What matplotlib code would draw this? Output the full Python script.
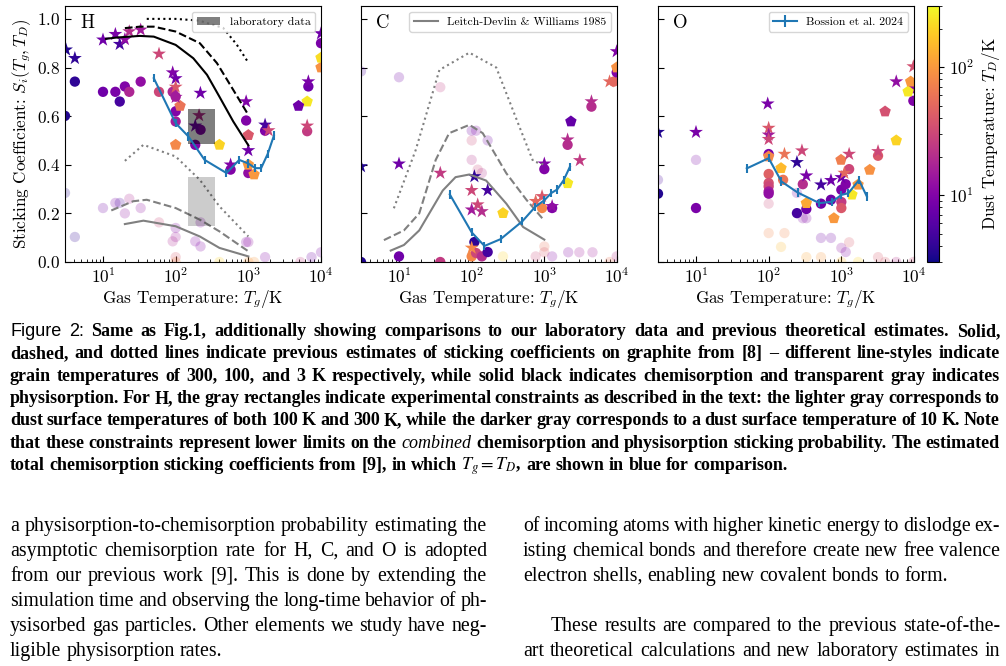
import re
import matplotlib
matplotlib.use("Agg")
import matplotlib.pyplot as plt
from matplotlib.colors import LogNorm
from matplotlib.patches import Rectangle
from matplotlib.lines import Line2D
from matplotlib.cm import ScalarMappable

plt.rcParams['font.family'] = 'cmr10'
plt.rcParams['mathtext.fontset'] = 'cm'
plt.rcParams['axes.formatter.use_mathtext'] = True
plt.rcParams['axes.unicode_minus'] = False

# ---------------- data ----------------
# each group: x = gas temperature, y = sticking coefficient, td = dust temperature
H_star_x = [3.1, 4.1, 10, 14.8, 17, 20, 23, 33, 59, 91, 100, 100, 100, 219, 933, 210, 186, 1000, 1700, 1900, 6450, 6700, 10000, 570]
H_star_y = [0.873, 0.838, 0.914, 0.937, 0.896, 0.916, 0.948, 0.955, 0.856, 0.779, 0.755, 0.72, 0.678, 0.695, 0.66, 0.603, 0.56, 0.459, 0.564, 0.541, 0.56, 0.742, 0.94, 0.40]
H_star_td = [3.5, 4, 8, 9, 5, 12, 20, 15, 30, 10, 8, 40, 15, 8, 10, 20, 8, 8, 5, 30, 30, 9, 8, 10]
H_pent_x = [115, 100, 400, 6450, 4900, 1000, 1200, 1000, 10000, 10000]
H_pent_y = [0.642, 0.482, 0.482, 0.66, 0.642, 0.522, 0.36, 0.40, 0.80, 0.84]
H_pent_td = [60, 80, 200, 250, 8, 40, 100, 100, 90, 220]
H_circ_x = [3, 4.1, 10, 14.8, 17, 20, 23, 33, 59, 91, 100, 100, 100, 186, 220, 933, 1000, 570, 1700, 6450, 6700, 10000]
H_circ_y = [0.601, 0.742, 0.70, 0.70, 0.66, 0.722, 0.70, 0.742, 0.70, 0.70, 0.68, 0.62, 0.578, 0.482, 0.544, 0.582, 0.366, 0.38, 0.54, 0.538, 0.722, 0.90]
H_circ_td = [3.5, 4, 8, 9, 5, 10, 18, 12, 30, 18, 15, 10, 15, 10, 10, 10, 12, 10, 10, 25, 8, 9]
H_fade_x = [3, 4.1, 10, 14.8, 17, 20, 23, 33, 59, 91, 100, 100, 100, 186, 220, 220, 933, 1000, 1700, 5200, 7400, 10000, 100, 400, 1000, 1200]
H_fade_y = [0.284, 0.103, 0.222, 0.243, 0.243, 0.20, 0.26, 0.222, 0.163, 0.085, 0.103, 0.14, 0.02, 0.085, 0.064, 0.163, 0.082, 0.082, 0.02, 0.0, 0.02, 0.04, 0.0, 0.0, 0.0, 0.0]
H_fade_td = [3.5, 4, 8, 9, 5, 12, 18, 12, 30, 18, 15, 10, 40, 10, 10, 10, 10, 12, 10, 25, 8, 9, 80, 200, 100, 100]

C_star_x = [3, 10, 37, 109, 100, 166, 100, 121, 138, 100, 1000, 930, 1280, 760, 2090, 3080, 4450, 7900, 9900]
C_star_y = [0.393, 0.404, 0.366, 0.352, 0.295, 0.295, 0.215, 0.236, 0.208, 0.058, 0.404, 0.27, 0.229, 0.25, 0.503, 0.418, 0.66, 0.742, 0.866]
C_star_td = [3.5, 8, 25, 4, 30, 5, 15, 30, 20, 80, 10, 40, 12, 50, 20, 25, 20, 50, 10]
C_pent_x = [270, 2090, 2320, 9900]
C_pent_y = [0.201, 0.324, 0.578, 0.80]
C_pent_td = [200, 250, 7, 90]
C_circ_x = [3, 10, 37, 109, 100, 115, 138, 166, 1000, 930, 1280, 2090, 4450, 9000, 9900]
C_circ_y = [0.0, 0.023, 0.0, 0.082, 0.023, 0.037, 0.023, 0.041, 0.382, 0.222, 0.222, 0.482, 0.639, 0.742, 0.78]
C_circ_td = [3.5, 8, 25, 4, 80, 30, 20, 5, 10, 80, 10, 20, 20, 50, 10]
C_fade_x = [3, 10, 37, 100, 115, 100, 166, 100, 121, 138, 270, 1000, 1000, 760, 1280, 2130, 3030, 4600, 7900, 9900]
C_fade_y = [0.784, 0.76, 0.719, 0.54, 0.54, 0.5, 0.5, 0.42, 0.38, 0.366, 0.023, 0.064, 0.04, 0.023, 0.023, 0.04, 0.04, 0.04, 0.0, 0.023]
C_fade_td = [5, 8, 25, 8, 10, 30, 8, 20, 30, 20, 200, 60, 40, 30, 10, 10, 15, 15, 60, 20]

O_star_x = [3, 10, 97, 100, 100, 100, 165, 287, 245, 330, 525, 720, 1000, 1280, 1100, 3200, 5700, 9800]
O_star_y = [0.534, 0.534, 0.651, 0.551, 0.523, 0.505, 0.444, 0.458, 0.41, 0.355, 0.318, 0.336, 0.348, 0.444, 0.366, 0.455, 0.742, 0.804]
O_star_td = [3.5, 9, 9, 40, 15, 30, 60, 30, 4, 9, 5, 8, 8, 30, 50, 30, 12, 35]
O_pent_x = [100, 148, 330, 790, 990, 1400, 2460, 5700, 8300, 9000, 4000, 1700]
O_pent_y = [0.434, 0.386, 0.242, 0.18, 0.42, 0.277, 0.379, 0.5, 0.701, 0.742, 0.619, 0.318]
O_pent_td = [80, 150, 120, 100, 70, 250, 90, 200, 250, 100, 35, 100]
O_circ_x = [3, 10, 100, 100, 100, 100, 100, 100, 158, 245, 295, 330, 525, 720, 1000, 1000, 1000, 1280, 1150, 3200, 9800, 9800]
O_circ_y = [0.281, 0.222, 0.444, 0.362, 0.325, 0.311, 0.29, 0.281, 0.338, 0.201, 0.32, 0.218, 0.24, 0.256, 0.297, 0.247, 0.222, 0.382, 0.32, 0.437, 0.663, 0.715]
O_circ_td = [3.5, 9, 9, 45, 35, 30, 15, 12, 60, 5, 20, 8, 8, 8, 9, 25, 40, 30, 10, 40, 10, 12]
O_fade_x = [3, 10, 100, 100, 165, 148, 245, 295, 330, 525, 720, 1000, 1280, 1150, 330, 525, 1000, 1700, 3200, 4000, 5700, 9800]
O_fade_y = [0.338, 0.42, 0.24, 0.119, 0.119, 0.062, 0.284, 0.18, 0.18, 0.099, 0.099, 0.058, 0.081, 0.041, 0.02, 0.02, 0.0, 0.0, 0.02, 0.0, 0.0, 0.0]
O_fade_td = [5, 9, 30, 80, 80, 150, 8, 10, 10, 8, 8, 12, 40, 10, 120, 100, 150, 200, 40, 40, 20, 30]

# previous estimates [8], H: chemisorption (black) and physisorption (gray)
H_chem300_x = [11, 15, 32, 50, 100, 175, 270, 400, 620, 1000]
H_chem300_y = [0.918, 0.923, 0.93, 0.927, 0.893, 0.838, 0.77, 0.68, 0.578, 0.48]
H_chem100_x = [20, 32, 50, 100, 215, 370, 620, 1000]
H_chem100_y = [0.962, 0.968, 0.968, 0.948, 0.90, 0.818, 0.708, 0.605]
H_chem3_x = [40, 100, 210, 450, 690, 1000]
H_chem3_y = [1.0, 1.0, 0.993, 0.963, 0.895, 0.82]
H_phys300_x = [20, 36, 100, 215, 400, 1000]
H_phys300_y = [0.156, 0.17, 0.147, 0.105, 0.058, 0.023]
H_phys100_x = [13, 26, 40, 100, 215, 400, 1000]
H_phys100_y = [0.212, 0.25, 0.256, 0.222, 0.174, 0.126, 0.044]
H_phys3_x = [20, 36, 100, 215, 400, 1000]
H_phys3_y = [0.416, 0.482, 0.434, 0.338, 0.229, 0.105]

# C: Leitch-Devlin & Williams 1985
C_300_x = [7.7, 11.7, 19, 40, 60, 93, 158, 300, 510, 1000]
C_300_y = [0.047, 0.07, 0.13, 0.294, 0.349, 0.36, 0.335, 0.24, 0.144, 0.092]
C_100_x = [6.2, 11.7, 19, 32, 49, 93, 142, 300, 570, 980]
C_100_y = [0.09, 0.13, 0.20, 0.42, 0.53, 0.564, 0.53, 0.365, 0.255, 0.173]
C_3_x = [8.5, 17, 36, 93, 218, 460, 700, 1000]
C_3_y = [0.221, 0.461, 0.79, 0.861, 0.80, 0.552, 0.415, 0.40]

# blue: estimates from [9]
H_blue_x = [50, 100, 150, 250, 500, 750, 1000, 1250, 1500, 1850, 2250]
H_blue_y = [0.756, 0.571, 0.516, 0.42, 0.366, 0.42, 0.405, 0.386, 0.386, 0.445, 0.52]
C_blue_x = [50, 100, 150, 250, 500, 750, 1000, 1250, 1500, 1850, 2250]
C_blue_y = [0.278, 0.122, 0.066, 0.094, 0.168, 0.227, 0.254, 0.284, 0.298, 0.337, 0.392]
O_blue_x = [50, 100, 150, 250, 500, 750, 1000, 1250, 1750, 2250]
O_blue_y = [0.385, 0.427, 0.331, 0.286, 0.242, 0.248, 0.276, 0.283, 0.337, 0.269]
blue_err = 0.017

# laboratory constraints for H
lab_x = [150, 350]
lab_dark_y = [0.486, 0.63]
lab_light_y = [0.15, 0.35]

# ---------------- figure ----------------
W, H = 1006, 666
fig = plt.figure(figsize=(W / 100, H / 100), dpi=100)
FS = 12.3


def box(l, t, r, b):
    return [l / W, 1 - b / H, (r - l) / W, (b - t) / H]


axH = fig.add_axes(box(65, 6, 321, 262))
axC = fig.add_axes(box(361, 6, 617, 262))
axO = fig.add_axes(box(658, 6, 914, 262))
cax = fig.add_axes(box(927, 6, 939, 262))

norm = LogNorm(3, 300)
cmap = 'plasma'


def points(ax, stars, pents, circs, fades):
    ax.scatter(*fades[:2], c=fades[2], cmap=cmap, norm=norm, marker='o', s=55, alpha=0.22, edgecolors='none', zorder=2)
    ax.scatter(*circs[:2], c=circs[2], cmap=cmap, norm=norm, marker='o', s=55, edgecolors='none', zorder=2)
    ax.scatter(*pents[:2], c=pents[2], cmap=cmap, norm=norm, marker='p', s=75, edgecolors='none', zorder=2)
    ax.scatter(*stars[:2], c=stars[2], cmap=cmap, norm=norm, marker='*', s=110, edgecolors='none', zorder=2)


points(axH, (H_star_x, H_star_y, H_star_td), (H_pent_x, H_pent_y, H_pent_td),
       (H_circ_x, H_circ_y, H_circ_td), (H_fade_x, H_fade_y, H_fade_td))
points(axC, (C_star_x, C_star_y, C_star_td), (C_pent_x, C_pent_y, C_pent_td),
       (C_circ_x, C_circ_y, C_circ_td), (C_fade_x, C_fade_y, C_fade_td))
points(axO, (O_star_x, O_star_y, O_star_td), (O_pent_x, O_pent_y, O_pent_td),
       (O_circ_x, O_circ_y, O_circ_td), (O_fade_x, O_fade_y, O_fade_td))

# H previous estimates
axH.plot(H_chem300_x, H_chem300_y, 'k-', lw=1.5, zorder=3)
axH.plot(H_chem100_x, H_chem100_y, 'k--', lw=1.5, zorder=3)
axH.plot(H_chem3_x, H_chem3_y, 'k:', lw=1.5, zorder=3)
axH.plot(H_phys300_x, H_phys300_y, '-', color='gray', lw=1.5, zorder=3)
axH.plot(H_phys100_x, H_phys100_y, '--', color='gray', lw=1.5, zorder=3)
axH.plot(H_phys3_x, H_phys3_y, ':', color='gray', lw=1.5, zorder=3)

dark = Rectangle((lab_x[0], lab_dark_y[0]), lab_x[1] - lab_x[0], lab_dark_y[1] - lab_dark_y[0],
                 facecolor='k', alpha=0.5, edgecolor='none', zorder=4, label='laboratory data')
light = Rectangle((lab_x[0], lab_light_y[0]), lab_x[1] - lab_x[0], lab_light_y[1] - lab_light_y[0],
                  facecolor='k', alpha=0.2, edgecolor='none', zorder=4)
axH.add_patch(dark)
axH.add_patch(light)

# C previous estimates
axC.plot(C_300_x, C_300_y, '-', color='gray', lw=1.5, zorder=3)
axC.plot(C_100_x, C_100_y, '--', color='gray', lw=1.5, zorder=3)
axC.plot(C_3_x, C_3_y, ':', color='gray', lw=1.5, zorder=3)

# blue, with error bars
for ax, bx, by in [(axH, H_blue_x, H_blue_y), (axC, C_blue_x, C_blue_y)]:
    ax.errorbar(bx, by, yerr=blue_err, color='#1f77b4', lw=1.5, zorder=5)
eb = axO.errorbar(O_blue_x, O_blue_y, yerr=blue_err, color='#1f77b4', lw=1.5, zorder=5,
                  label='Bossion et al. 2024')

leg_kw = dict(loc='upper right', fontsize=8.5, framealpha=0.8, borderpad=0.4)
axH.legend(handles=[dark], **leg_kw)
axC.legend(handles=[Line2D([], [], color='gray', lw=1.5)], labels=['Leitch-Devlin & Williams 1985'], **leg_kw)
axO.legend(**leg_kw)

for ax, name in [(axH, 'H'), (axC, 'C'), (axO, 'O')]:
    ax.set_xscale('log')
    ax.set_xlim(3, 1e4)
    ax.set_ylim(0, 1.053)
    ax.set_yticks([0, 0.2, 0.4, 0.6, 0.8, 1.0])
    ax.tick_params(which='both', direction='in', labelsize=FS)
    ax.tick_params(which='major', length=4)
    ax.tick_params(which='minor', length=2.5)
    ax.set_xlabel('Gas Temperature: $T_g/\\mathrm{K}$', fontsize=FS, labelpad=2)
    ax.text(0.06, 0.935, name, transform=ax.transAxes, fontsize=13.5, va='center', ha='left')
    if ax is not axH:
        ax.tick_params(labelleft=False)
axH.set_ylabel('Sticking Coefficient: $S_i(T_g, T_D)$', fontsize=FS, labelpad=3)

cb = fig.colorbar(ScalarMappable(norm=norm, cmap=cmap), cax=cax)
cb.ax.tick_params(labelsize=FS)
cb.set_label('Dust Temperature: $T_D/\\mathrm{K}$', fontsize=FS)

# ---------------- caption and body text ----------------
caption = [
    [("Figure 2:", 'sans'), ("Same as Fig.1, additionally showing comparisons to our laboratory data and previous theoretical estimates.  Solid,", 'bold')],
    [("dashed, and dotted lines indicate previous estimates of sticking coefficients on graphite from [8] \u2013 different line-styles indicate", 'bold')],
    [("grain temperatures of 300, 100, and 3 K respectively, while solid black indicates chemisorption and transparent gray indicates", 'bold')],
    [("physisorption. For H, the gray rectangles indicate experimental constraints as described in the text: the lighter gray corresponds to", 'bold')],
    [("dust surface temperatures of both 100 K and 300 K, while the darker gray corresponds to a dust surface temperature of 10 K. Note", 'bold')],
    [("that these constraints represent lower limits on the", 'bold'), ("combined", 'ital'), ("chemisorption and physisorption sticking probability. The estimated", 'bold')],
    [("total chemisorption sticking coefficients from [9], in which $T_g = T_D$, are shown in blue for comparison.", 'bold')],
]
left_col = [
    "a physisorption-to-chemisorption probability estimating the",
    "asymptotic chemisorption rate for H, C, and O is adopted",
    "from our previous work [9].  This is done by extending the",
    "simulation time and observing the long-time behavior of ph-",
    "ysisorbed gas particles. Other elements we study have neg-",
    "ligible physisorption rates.",
]
right_col = [
    "of incoming atoms with higher kinetic energy to dislodge ex-",
    "isting chemical bonds and therefore create new free valence",
    "electron shells, enabling new covalent bonds to form.",
    "",
    "These results are compared to the previous state-of-the-",
    "art theoretical calculations and new laboratory estimates in",
]

styles = {
    'sans': dict(family='Liberation Sans'),
    'bold': dict(family='Liberation Serif', weight='bold', math_fontfamily='stix'),
    'ital': dict(family='Liberation Serif', style='italic'),
    'body': dict(family='Liberation Serif', math_fontfamily='stix'),
}

renderer = fig.canvas.get_renderer()


def words_of(segments):
    out = []
    for s, st in segments:
        for w in re.findall(r'\$[^$]*\$\S*|\S+', s):
            out.append((w, st))
    return out


def width(word, st, size=10):
    t = fig.text(0, 0, word, fontsize=size, **styles[st])
    w = t.get_window_extent(renderer=renderer).width
    t.remove()
    return w


def fit_size(lines, span, just):
    # largest size at which every justified line fits with 0.2 em spaces
    best = 100
    for ws, j in zip(lines, just):
        if not j or not ws:
            continue
        natural = sum(width(w, st) for w, st in ws) + (len(ws) - 1) * 0.2 * 10 * 100 / 72
        best = min(best, 10 * span / natural)
    return best


def place(ws, x0, x1, base, size, justify):
    wid = [width(w, st, size) for w, st in ws]
    if justify and len(ws) > 1:
        gap = (x1 - x0 - sum(wid)) / (len(ws) - 1)
    else:
        gap = 0.25 * size * 100 / 72
    x = x0
    for (w, st), wd in zip(ws, wid):
        fig.text(x / W, 1 - base / H, w, fontsize=size, ha='left', va='baseline', **styles[st])
        x += wd + gap


cap_words = [words_of(l) for l in caption]
cap_just = [True] * 6 + [False]
cap_size = fit_size(cap_words, 990, cap_just)
for i, ws in enumerate(cap_words):
    place(ws, 10, 1000, 336 + 22.33 * i, cap_size, cap_just[i])

lw = [words_of([(l, 'body')]) for l in left_col]
rw = [words_of([(l, 'body')]) for l in right_col]
l_just = [True] * 5 + [False]
r_just = [True, True, False, False, True, True]
body_size = min(fit_size(lw, 477, l_just), fit_size(rw, 477, r_just))
for i, ws in enumerate(lw):
    place(ws, 10, 487, 531 + 25 * i, body_size, l_just[i])
for i, ws in enumerate(rw):
    if ws:
        x0 = 551 if i == 4 else 523
        place(ws, x0, 1000, 531 + 25 * i, body_size, r_just[i])

fig.savefig('out.png', dpi=100)
